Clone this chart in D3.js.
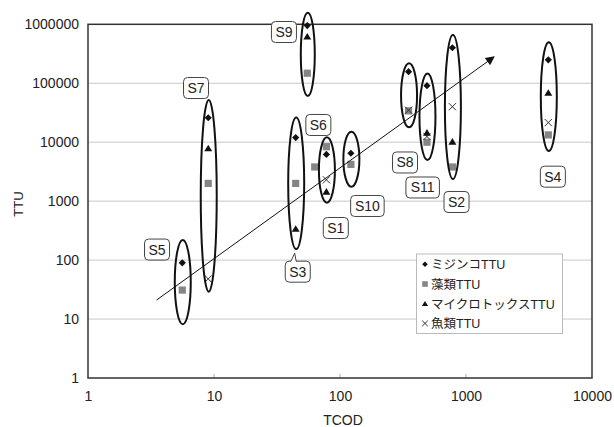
<!DOCTYPE html>
<html><head><meta charset="utf-8">
<script src="https://cdn.jsdelivr.net/npm/d3@7"></script>
<style>
body{margin:0;background:#fff;}
text{font-family:"Liberation Sans",Arial,"Noto Sans CJK JP",sans-serif;}
</style></head>
<body><svg id="c" width="614" height="427"></svg>
<script>
// ---- data ----
const samples   = ["S5","S7","S3","S9","S6","S1","S10","S8","S11","S2","S4"];
const tcod      = [5.6, 9, 44.5, 55, 63, 78, 122, 350, 490, 780, 4500];
const mijinko   = [90, 26000, 12000, 950000, null, 6200, 6500, 157000, 91000, 400000, 250000];
const sorui     = [31, 2000, 2000, 148000, 3800, 8400, 4200, 34000, 10000, 3800, 13300];
const micro     = [null, 7900, 340, 620000, null, 1450, null, null, 14500, 10200, 69000];
const fish      = [null, 48, null, null, null, 2300, null, 35000, 12500, 40000, 21500];
// ellipse TTU extents (top / bottom) for each grouped sample (null = no ellipse)
const ellTop    = [219, 52000, 26200, 1570000, null, 12100, 15100, 218000, 147000, 659000, 495000];
const ellBottom = [8.2, 29.1, 154, 60800, null, 942, 1760, 17900, 4990, 2377, 7100];
// label anchor (TCOD, TTU)
const labelX    = [3.53, 7.2, 46.2, 35.9, 67.3, 92.6, 165, 328, 453, 841, 4890];
const labelY    = [151, 83000, 63.6, 740000, 19600, 350, 828, 4530, 1705, 968, 2600];
const trendFrom = [3.5, 21];
const trendTo   = [1670, 280000];
const xTicks    = [1, 10, 100, 1000, 10000];
const yTicks    = [1, 10, 100, 1000, 10000, 100000, 1000000];
const legendNames = ["ミジンコTTU","藻類TTU","マイクロトックスTTU","魚類TTU"];

// ---- layout ----
const svg = d3.select("#c");
const L=88, R=592, T=24.3, B=378;
const x = d3.scaleLog().domain([1,10000]).range([L,R]);
const y = d3.scaleLog().domain([1,1000000]).range([B,T]);

// gridlines
svg.append("g").selectAll("line").data(yTicks.slice(1,-1)).join("line")
  .attr("x1",L).attr("x2",R).attr("y1",d=>y(d)).attr("y2",d=>y(d))
  .attr("stroke","#c8c8c8").attr("stroke-width",1);

// axes via d3
const yAxis = d3.axisLeft(y).tickValues(yTicks).tickFormat(d3.format("d")).tickSize(0).tickPadding(9);
const gy = svg.append("g").attr("transform",`translate(${L},0)`).call(yAxis);
gy.select(".domain").remove();
gy.selectAll("text").attr("font-size",14).attr("fill","#222").attr("font-family","Liberation Sans, Arial");

const xAxis = d3.axisBottom(x).tickValues(xTicks).tickFormat(d3.format("d")).tickSize(0).tickPadding(13);
const gx = svg.append("g").attr("transform",`translate(0,${B})`).call(xAxis);
gx.select(".domain").remove();
gx.selectAll("text").attr("font-size",14).attr("fill","#222").attr("font-family","Liberation Sans, Arial");
// inward small ticks
svg.append("g").selectAll("line").data(xTicks.slice(1,-1)).join("line")
  .attr("x1",d=>x(d)).attr("x2",d=>x(d)).attr("y1",B).attr("y2",B-4)
  .attr("stroke","#aaa").attr("stroke-width",1);

// frame
svg.append("rect").attr("x",L).attr("y",T).attr("width",R-L).attr("height",B-T)
  .attr("fill","none").attr("stroke","#333").attr("stroke-width",1.5);

// axis titles
svg.append("text").attr("x",L+(R-L)/2+3).attr("y",424.5).attr("text-anchor","middle")
  .attr("font-size",14).attr("fill","#222").text("TCOD");
svg.append("text").attr("transform","translate(23,204) rotate(-90)").attr("text-anchor","middle")
  .attr("font-size",13).attr("fill","#222").text("TTU");

// markers
function diamond(s){return `M0,${-s}L${s},0L0,${s}L${-s},0Z`;}
function tri(s){return `M0,${-s}L${s*1.1},${s*0.85}L${-s*1.1},${s*0.85}Z`;}
function cross(s){return `M${-s},${-s}L${s},${s}M${s},${-s}L${-s},${s}`;}

const clipG = svg.append("g");
const series = [
  {vals:mijinko, draw:(g,s)=>g.append("path").attr("d",diamond(s)).attr("fill","#111")},
  {vals:sorui,   draw:(g,s)=>g.append("rect").attr("x",-s).attr("y",-s).attr("width",2*s).attr("height",2*s).attr("fill","#858585")},
  {vals:micro,   draw:(g,s)=>g.append("path").attr("d",tri(s)).attr("fill","#111")},
  {vals:fish,    draw:(g,s)=>g.append("path").attr("d",cross(s)).attr("stroke","#333").attr("stroke-width",1).attr("fill","none")}
];
// draw order: squares, crosses, triangles, diamonds
[1,3,2,0].forEach(si=>{
  const sr = series[si];
  sr.vals.forEach((v,i)=>{
    if(v==null) return;
    const g = clipG.append("g").attr("transform",`translate(${x(tcod[i])},${y(v)})`);
    sr.draw(g,3.6);
  });
});

// ellipses
samples.forEach((s,i)=>{
  if(ellTop[i]==null) return;
  const yt=y(ellTop[i]), yb=y(ellBottom[i]);
  svg.append("ellipse").attr("cx",x(tcod[i])+0.5).attr("cy",(yt+yb)/2)
    .attr("rx",i===3?7:8).attr("ry",(yb-yt)/2)
    .attr("fill","none").attr("stroke","#111").attr("stroke-width",2);
});

// trend arrow
svg.append("defs").append("marker").attr("id","ah").attr("viewBox","0 0 10 10")
  .attr("refX",9).attr("refY",5).attr("markerWidth",12).attr("markerHeight",9)
  .attr("markerUnits","userSpaceOnUse").attr("orient","auto")
  .append("path").attr("d","M0,0L10,5L0,10Z").attr("fill","#111");
svg.append("line").attr("x1",x(trendFrom[0])).attr("y1",y(trendFrom[1]))
  .attr("x2",x(trendTo[0])).attr("y2",y(trendTo[1]))
  .attr("stroke","#111").attr("stroke-width",1).attr("marker-end","url(#ah)");

// labels
samples.forEach((s,i)=>{
  const cx=x(labelX[i]), cy=y(labelY[i]);
  const w = s.length===2?25:33.5, h=21;
  const g = svg.append("g");
  g.append("rect").attr("x",cx-w/2).attr("y",cy-h/2).attr("width",w).attr("height",h)
    .attr("rx",4).attr("fill","#fff").attr("stroke","#444").attr("stroke-width",1);
  if(s==="S3"){
    // callout tail pointing up to ellipse
    const tx = x(tcod[i]);
    g.append("path").attr("d",`M${cx-7},${cy-h/2+0.5}L${tx-1},${cy-h/2-8}L${cx-1.5},${cy-h/2+0.5}`)
      .attr("fill","#fff").attr("stroke","#444").attr("stroke-width",1);
    g.append("line").attr("x1",cx-6.5).attr("x2",cx-2).attr("y1",cy-h/2+0.5).attr("y2",cy-h/2+0.5)
      .attr("stroke","#fff").attr("stroke-width",1.5);
  }
  g.append("text").attr("x",cx).attr("y",cy+5).attr("text-anchor","middle")
    .attr("font-size",14).attr("fill","#222").text(s);
});

// legend
const lg = svg.append("g");
lg.append("rect").attr("x",416.5).attr("y",254).attr("width",146).attr("height",79.5)
  .attr("fill","#fff").attr("stroke","#bbb").attr("stroke-width",1);
legendNames.forEach((n,i)=>{
  const yy = 264.3 + i*19.7;
  const g = lg.append("g").attr("transform",`translate(425,${yy})`);
  series[i].draw(g,2.8);
  lg.append("text").attr("x",431).attr("y",yy+4.8).attr("font-size",12.5)
    .attr("font-family","Liberation Sans, Noto Sans CJK JP").attr("fill","#222").text(n);
});
</script></body></html>
